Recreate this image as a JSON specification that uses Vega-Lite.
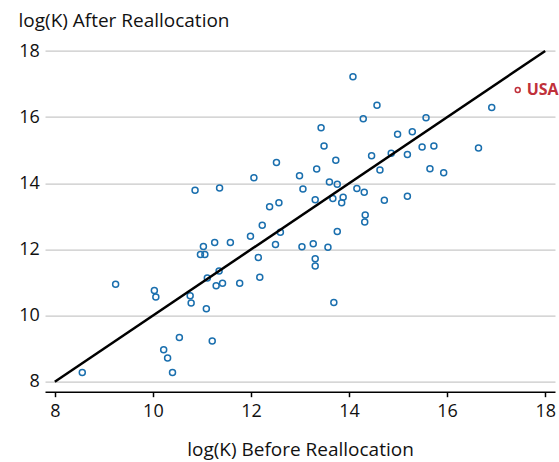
{
  "$schema": "https://vega.github.io/schema/vega-lite/v6.json",
  "width": 510,
  "height": 344,
  "autosize": {"type": "none"},
  "padding": {"left": 45, "top": 47.7, "right": 4, "bottom": 70},
  "background": "white",
  "config": {
    "view": {"stroke": null},
    "font": "Open Sans",
    "axis": {"labelFont": "Open Sans", "titleFont": "Open Sans", "labelColor": "#111", "titleColor": "#111", "titleFontWeight": "normal"}
  },
  "datasets": {
    "pts": [
      {"x": 9.24, "y": 10.95}, {"x": 10.03, "y": 10.76}, {"x": 10.06, "y": 10.56}, {"x": 10.76, "y": 10.6},
      {"x": 10.78, "y": 10.38}, {"x": 11.09, "y": 10.21}, {"x": 11.11, "y": 11.14}, {"x": 11.35, "y": 11.35},
      {"x": 11.29, "y": 10.9}, {"x": 11.42, "y": 10.98}, {"x": 11.77, "y": 10.98}, {"x": 10.54, "y": 9.34},
      {"x": 11.21, "y": 9.23}, {"x": 10.22, "y": 8.97}, {"x": 10.3, "y": 8.72}, {"x": 10.4, "y": 8.28},
      {"x": 8.56, "y": 8.28},
      {"x": 12.52, "y": 14.63}, {"x": 12.06, "y": 14.17}, {"x": 10.86, "y": 13.79}, {"x": 11.36, "y": 13.86},
      {"x": 12.38, "y": 13.29}, {"x": 12.57, "y": 13.41}, {"x": 12.23, "y": 12.73}, {"x": 12.6, "y": 12.52},
      {"x": 11.99, "y": 12.4}, {"x": 12.5, "y": 12.15}, {"x": 11.58, "y": 12.21}, {"x": 11.26, "y": 12.21},
      {"x": 11.03, "y": 12.09}, {"x": 10.97, "y": 11.85}, {"x": 11.06, "y": 11.85}, {"x": 12.15, "y": 11.76},
      {"x": 12.18, "y": 11.16},
      {"x": 14.08, "y": 17.22}, {"x": 14.57, "y": 16.36}, {"x": 14.29, "y": 15.95}, {"x": 13.43, "y": 15.68},
      {"x": 13.49, "y": 15.13}, {"x": 13.73, "y": 14.7}, {"x": 12.99, "y": 14.23}, {"x": 13.34, "y": 14.43},
      {"x": 14.46, "y": 14.83}, {"x": 14.63, "y": 14.4}, {"x": 14.99, "y": 15.48}, {"x": 15.29, "y": 15.56},
      {"x": 14.86, "y": 14.91}, {"x": 15.19, "y": 14.87},
      {"x": 13.06, "y": 13.83}, {"x": 13.6, "y": 14.04}, {"x": 13.76, "y": 13.97}, {"x": 14.16, "y": 13.84},
      {"x": 14.31, "y": 13.73}, {"x": 13.31, "y": 13.5}, {"x": 13.67, "y": 13.54}, {"x": 13.88, "y": 13.58},
      {"x": 13.85, "y": 13.41}, {"x": 14.72, "y": 13.49}, {"x": 15.19, "y": 13.61}, {"x": 14.33, "y": 13.04},
      {"x": 14.32, "y": 12.83}, {"x": 13.76, "y": 12.54}, {"x": 13.04, "y": 12.08}, {"x": 13.27, "y": 12.17},
      {"x": 13.57, "y": 12.07}, {"x": 13.31, "y": 11.72}, {"x": 13.31, "y": 11.5}, {"x": 13.69, "y": 10.4},
      {"x": 15.57, "y": 15.98}, {"x": 15.49, "y": 15.1}, {"x": 15.73, "y": 15.13}, {"x": 16.64, "y": 15.07},
      {"x": 16.91, "y": 16.29}, {"x": 15.65, "y": 14.44}, {"x": 15.93, "y": 14.32}
    ],
    "usa": [{"x": 17.44, "y": 16.82, "country": "USA"}],
    "diag": [{"x": 8, "y": 8}, {"x": 18, "y": 18}]
  },
  "layer": [
    {
      "data": {"name": "pts"},
      "mark": {"type": "point", "shape": "circle", "filled": false, "color": "#1a6fae", "size": 36, "strokeWidth": 1.5, "opacity": 1},
      "encoding": {
        "x": {
          "field": "x", "type": "quantitative",
          "scale": {"domain": [7.8, 18.2], "nice": false, "zero": false},
          "axis": {
            "values": [8, 10, 12, 14, 16, 18], "grid": false, "domain": true, "domainColor": "#000", "domainWidth": 1.5,
            "ticks": true, "tickColor": "#000", "tickSize": 5, "tickWidth": 1.5,
            "labelFontSize": 18, "labelPadding": 6,
            "title": "log(K) Before Reallocation", "titleFontSize": 19, "titleBaseline": "alphabetic", "titleY": 64.3
          }
        },
        "y": {
          "field": "y", "type": "quantitative",
          "scale": {"domain": [7.7, 18.1], "nice": false, "zero": false},
          "axis": {
            "values": [8, 10, 12, 14, 16, 18], "grid": true, "gridColor": "#c8c8c8", "gridWidth": 1.2,
            "domain": false, "ticks": false, "labelFontSize": 18, "labelPadding": 5.7,
            "title": "log(K) After Reallocation", "titleFontSize": 19, "titleAngle": 0,
            "titleAlign": "left", "titleBaseline": "alphabetic", "titleX": -27, "titleY": -20.7
          }
        }
      }
    },
    {
      "data": {"name": "diag"},
      "mark": {"type": "line", "color": "#000", "strokeWidth": 2.5},
      "encoding": {
        "x": {"field": "x", "type": "quantitative"},
        "y": {"field": "y", "type": "quantitative"}
      }
    },
    {
      "data": {"name": "usa"},
      "mark": {"type": "point", "shape": "circle", "filled": false, "color": "#c0303a", "size": 24, "strokeWidth": 1.5, "opacity": 1},
      "encoding": {
        "x": {"field": "x", "type": "quantitative"},
        "y": {"field": "y", "type": "quantitative"}
      }
    },
    {
      "data": {"name": "usa"},
      "mark": {"type": "text", "color": "#c0303a", "fontSize": 16, "fontWeight": "bold", "align": "left", "baseline": "middle", "dx": 9, "font": "Open Sans"},
      "encoding": {
        "x": {"field": "x", "type": "quantitative"},
        "y": {"field": "y", "type": "quantitative"},
        "text": {"field": "country"}
      }
    }
  ]
}
